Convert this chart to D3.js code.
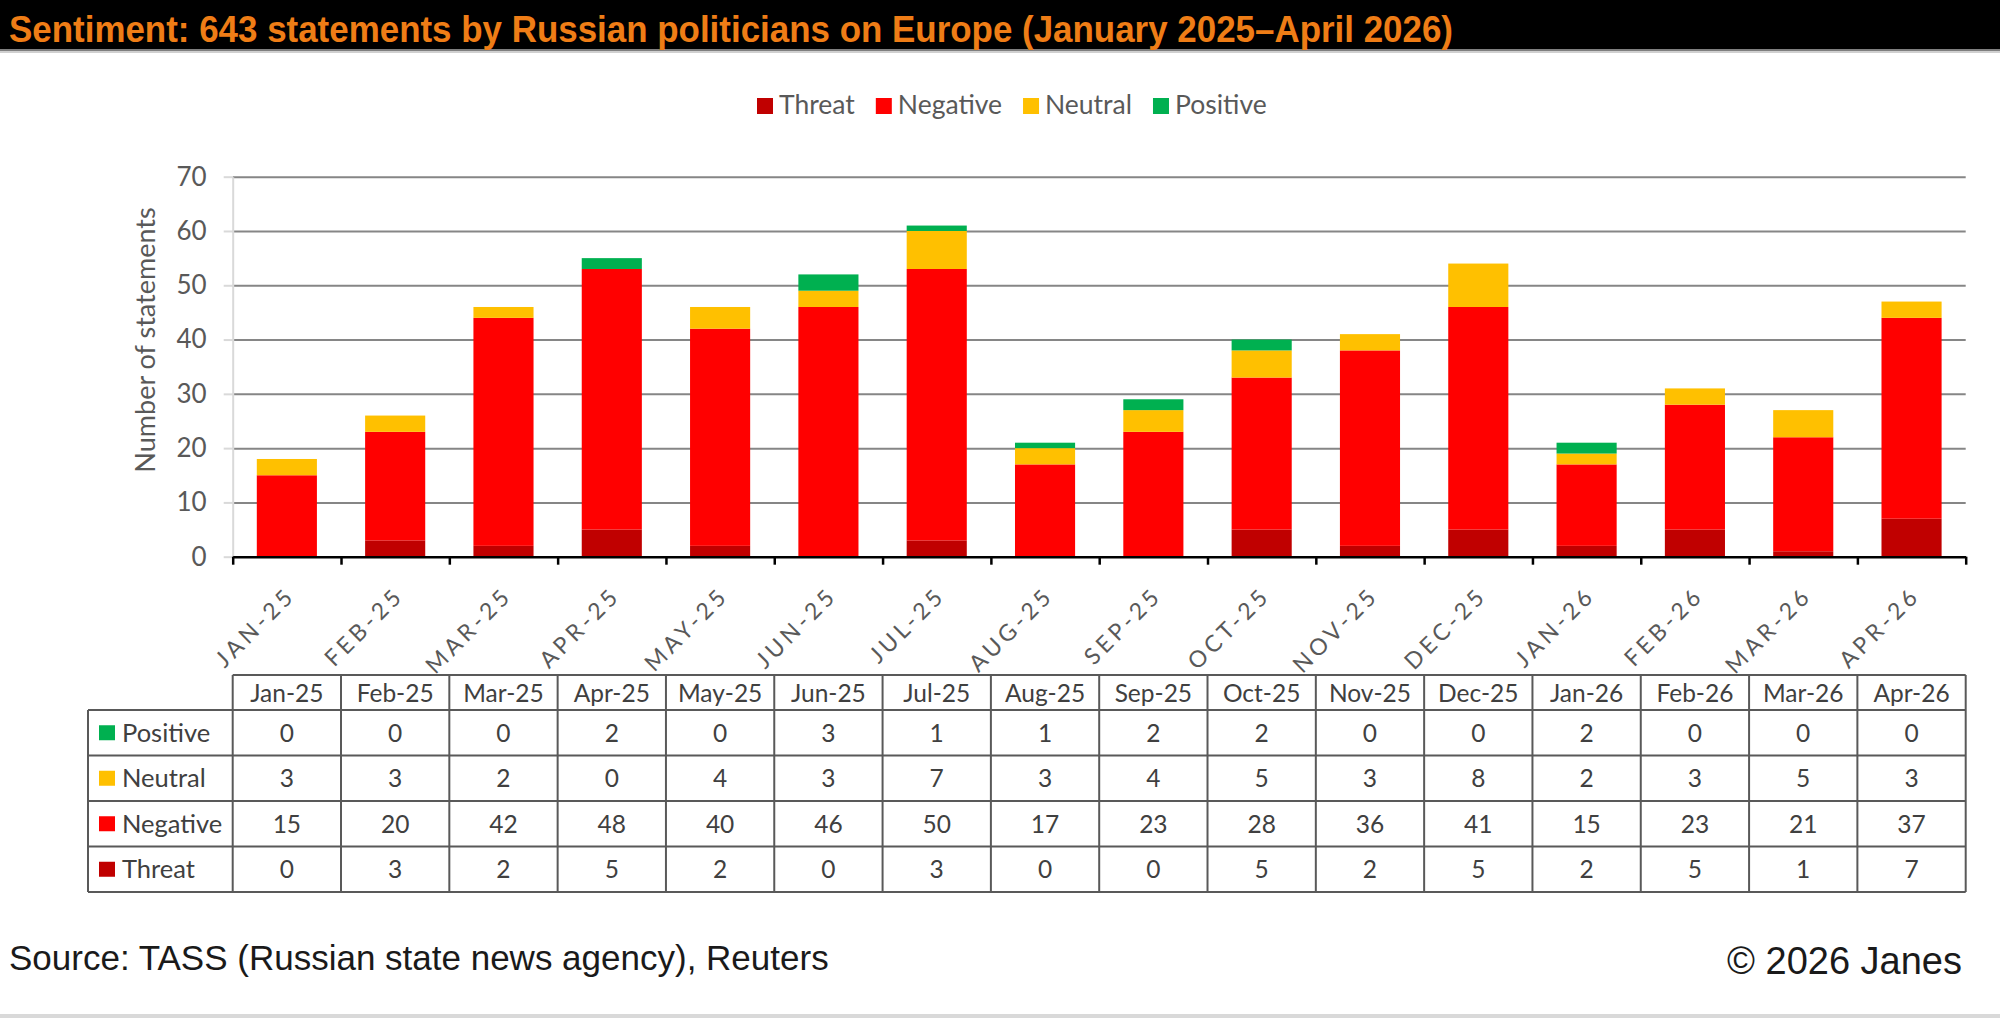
<!DOCTYPE html>
<html>
<head>
<meta charset="utf-8">
<script src="https://cdn.jsdelivr.net/npm/d3@7"></script>
<style>
  body { margin: 0; background: #fff; }
  svg { display: block; }
  text { font-family: Lato, "Open Sans", sans-serif; }
</style>
</head>
<body>
<div id="chart"></div>
<script>
const months = ["Jan-25", "Feb-25", "Mar-25", "Apr-25", "May-25", "Jun-25", "Jul-25", "Aug-25",
                "Sep-25", "Oct-25", "Nov-25", "Dec-25", "Jan-26", "Feb-26", "Mar-26", "Apr-26"];
const threat   = [0, 3, 2, 5, 2, 0, 3, 0, 0, 5, 2, 5, 2, 5, 1, 7];
const negative = [15, 20, 42, 48, 40, 46, 50, 17, 23, 28, 36, 41, 15, 23, 21, 37];
const neutral  = [3, 3, 2, 0, 4, 3, 7, 3, 4, 5, 3, 8, 2, 3, 5, 3];
const positive = [0, 0, 0, 2, 0, 3, 1, 1, 2, 2, 0, 0, 2, 0, 0, 0];
const seriesNames = ["Threat", "Negative", "Neutral", "Positive"];
const seriesColors = ["#C00000", "#FF0000", "#FFC000", "#00B050"];
const yTicks = [0, 10, 20, 30, 40, 50, 60, 70];

const titleText = "Sentiment: 643 statements by Russian politicians on Europe (January 2025\u2013April 2026)";
const sourceText = "Source: TASS (Russian state news agency), Reuters";
const copyText = "\u00A9 2026 Janes";

const width = 2000, height = 1018;
const plotLeft = 232.7, plotRight = 1965.7, plotTop = 176.7, plotBottom = 556.7;
const textGrey = "#595959";

const svg = d3.select("#chart").append("svg")
    .attr("width", width)
    .attr("height", height);

// title bar
svg.append("rect").attr("x", 0).attr("y", 0).attr("width", width).attr("height", 50).attr("fill", "#000");
svg.append("rect").attr("x", 0).attr("y", 49).attr("width", width).attr("height", 2).attr("fill", "#7f7f7f");
svg.append("rect").attr("x", 0).attr("y", 51).attr("width", width).attr("height", 2).attr("fill", "#d0d0d0");
svg.append("text")
    .attr("x", 9).attr("y", 42)
    .attr("textLength", 1444).attr("lengthAdjust", "spacingAndGlyphs")
    .style("font-family", "'Liberation Sans', Arial, sans-serif")
    .style("font-weight", "bold").style("font-size", "36px")
    .attr("fill", "#EF7D16")
    .text(titleText);

// stacked data
const table = months.map((m, i) => ({
    month: m, Threat: threat[i], Negative: negative[i], Neutral: neutral[i], Positive: positive[i]
}));
const stacked = d3.stack().keys(seriesNames)(table);

const x = d3.scaleBand().domain(months).range([plotLeft, plotRight])
    .paddingInner(0.445).paddingOuter(0.2225);
const xCol = d3.scaleBand().domain(months).range([plotLeft, plotRight]).padding(0);
const xEdge = d3.scaleLinear().domain([0, months.length]).range([plotLeft, plotRight]);
const y = d3.scaleLinear().domain([0, 70]).range([plotBottom, plotTop]);
const color = d3.scaleOrdinal().domain(seriesNames).range(seriesColors);

// gridlines
const grid = svg.append("g").attr("transform", `translate(${plotLeft},0)`)
    .call(d3.axisLeft(y).tickValues(yTicks.slice(1)).tickSize(-(plotRight - plotLeft)).tickFormat(""));
grid.select(".domain").remove();
grid.selectAll("line").attr("stroke", "#868686").attr("stroke-width", 2);

// y axis
const yAxis = svg.append("g").attr("transform", `translate(${plotLeft},0)`)
    .call(d3.axisLeft(y).tickValues(yTicks).tickSize(9).tickSizeOuter(0).tickPadding(17));
yAxis.select(".domain").attr("stroke", "#d9d9d9").attr("stroke-width", 2);
yAxis.selectAll("line").attr("stroke", "#d9d9d9").attr("stroke-width", 2);
yAxis.selectAll("text").style("font-size", "26px").attr("fill", textGrey).style("font-family", "Lato");

svg.append("text")
    .attr("transform", "translate(155,340) rotate(-90)")
    .attr("text-anchor", "middle")
    .style("font-size", "27px").attr("fill", textGrey)
    .text("Number of statements");

// bars
svg.append("g").selectAll("g")
    .data(stacked)
    .join("g")
    .attr("fill", d => color(d.key))
    .selectAll("rect")
    .data(d => d)
    .join("rect")
    .attr("x", d => x(d.data.month))
    .attr("y", d => y(d[1]))
    .attr("width", x.bandwidth())
    .attr("height", d => y(d[0]) - y(d[1]));

// x axis: line + ticks between categories
const xAxis = svg.append("g").attr("transform", `translate(0,${plotBottom})`)
    .call(d3.axisBottom(xEdge).ticks(months.length).tickSize(8).tickSizeOuter(0).tickFormat(""));
xAxis.select(".domain").attr("stroke", "#000").attr("stroke-width", 2.5);
xAxis.selectAll("line").attr("stroke", "#000").attr("stroke-width", 2.5);

// rotated category labels
const xLab = svg.append("g").attr("transform", `translate(0,${plotBottom})`)
    .call(d3.axisBottom(x).tickSize(0).tickFormat(d => d.toUpperCase()));
xLab.select(".domain").remove();
xLab.selectAll("text")
    .attr("text-anchor", "end")
    .attr("dy", null).attr("y", 0)
    .attr("transform", "translate(10,40) rotate(-45)")
    .style("font-size", "23px").style("letter-spacing", "4px")
    .style("font-family", "Lato")
    .attr("fill", textGrey);

// legend
const legend = svg.append("g").attr("transform", "translate(757,98)");
let lx = 0;
seriesNames.forEach((name, i) => {
    const g = legend.append("g").attr("transform", `translate(${lx},0)`);
    g.append("rect").attr("width", 16).attr("height", 16).attr("fill", seriesColors[i]);
    const t = g.append("text").attr("x", 22).attr("y", 16)
        .style("font-size", "26.5px").attr("fill", textGrey).text(name);
    lx += 22 + t.node().getComputedTextLength() + 21;
});

// data table
const tableTop = 675, headH = 35, rowH = 45.5, tableLeft = 88;
const rows = [
    { name: "Positive", values: positive },
    { name: "Neutral", values: neutral },
    { name: "Negative", values: negative },
    { name: "Threat", values: threat }
];
const tbl = svg.append("g");
const border = "#595959";
const cellFont = "24.5px";
const bodyTop = tableTop + headH;
const bodyBottom = bodyTop + rows.length * rowH;

// header cells
tbl.selectAll(".hcell").data(months).join("text")
    .attr("x", d => xCol(d) + xCol.bandwidth() / 2)
    .attr("y", tableTop + headH / 2 + 9)
    .attr("text-anchor", "middle")
    .style("font-size", cellFont).attr("fill", "#404040")
    .text(d => d);

rows.forEach((r, ri) => {
    const top = bodyTop + ri * rowH;
    const ci = seriesNames.indexOf(r.name);
    tbl.append("rect").attr("x", 99).attr("y", top + rowH / 2 - 7.5)
        .attr("width", 16).attr("height", 15).attr("fill", seriesColors[ci]);
    tbl.append("text").attr("x", 122).attr("y", top + rowH / 2 + 9)
        .style("font-size", "25.5px").attr("fill", "#404040").text(r.name);
    tbl.selectAll(null).data(r.values).join("text")
        .attr("x", (d, i) => xCol(months[i]) + xCol.bandwidth() / 2)
        .attr("y", top + rowH / 2 + 9)
        .attr("text-anchor", "middle")
        .style("font-size", cellFont).attr("fill", "#404040")
        .text(d => d);
});

// table grid lines
const hLines = [];
hLines.push([plotLeft, plotRight, tableTop]);
for (let i = 0; i <= rows.length; i++) hLines.push([tableLeft, plotRight, bodyTop + i * rowH]);
tbl.selectAll(".hl").data(hLines).join("line")
    .attr("x1", d => d[0]).attr("x2", d => d[1])
    .attr("y1", d => d[2]).attr("y2", d => d[2])
    .attr("stroke", border).attr("stroke-width", 2);
const vEdges = d3.range(months.length + 1).map(i => xEdge(i));
tbl.selectAll(".vl").data(vEdges).join("line")
    .attr("x1", d => d).attr("x2", d => d)
    .attr("y1", tableTop).attr("y2", bodyBottom)
    .attr("stroke", border).attr("stroke-width", 2);
tbl.append("line").attr("x1", tableLeft).attr("x2", tableLeft)
    .attr("y1", bodyTop).attr("y2", bodyBottom)
    .attr("stroke", border).attr("stroke-width", 2);

// footer
svg.append("text").attr("x", 9).attr("y", 970)
    .style("font-family", "'Liberation Sans', Arial, sans-serif").style("font-size", "35px")
    .attr("fill", "#1a1a1a").text(sourceText);
svg.append("text").attr("x", 1962).attr("y", 974).attr("text-anchor", "end")
    .style("font-family", "'Liberation Sans', Arial, sans-serif").style("font-size", "38px")
    .attr("fill", "#1a1a1a").text(copyText);
svg.append("rect").attr("x", 0).attr("y", 1014).attr("width", width).attr("height", 4).attr("fill", "#d9d9d9");
</script>
</body>
</html>
